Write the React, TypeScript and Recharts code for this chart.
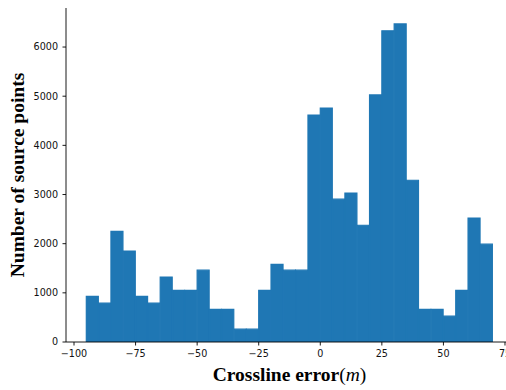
import React from 'react';
import { BarChart, Bar, XAxis, YAxis, Label } from 'recharts';

const binStarts = [-95, -90, -85, -80, -75, -70, -65, -60, -55, -50, -45, -40, -35, -30, -25, -20, -15, -10, -5, 0, 5, 10, 15, 20, 25, 30, 35, 40, 45, 50, 55, 60, 65];
const counts = [930, 790, 2250, 1850, 930, 790, 1320, 1050, 1050, 1460, 665, 665, 260, 260, 1050, 1580, 1460, 1460, 4615, 4760, 2905, 3030, 2375, 5025, 6330, 6470, 3290, 665, 665, 525, 1050, 2520, 1990];
const binWidth = 5;
const xTicks = [-100, -75, -50, -25, 0, 25, 50, 75];
const yTicks = [0, 1000, 2000, 3000, 4000, 5000, 6000];
const xDomain = [-103.25, 78.25];
const yDomain = [0, 6794];

const data = binStarts.map((s, i) => ({ x: s + binWidth / 2, count: counts[i] }));

const fmt = (v: number) => String(v).replace('-', '\u2212');

const tickStyle = { fontSize: 9.6, fill: '#111', fontFamily: 'DejaVu Sans' };

const XLabel = (props: any) => {
  const vb = props.viewBox;
  return (
    <text x={vb.x + vb.width / 2} y={380.5} textAnchor="middle" fontFamily="Liberation Serif" fontSize={19.5} fill="#000">
      <tspan fontWeight="bold">Crossline error</tspan>
      <tspan>(</tspan>
      <tspan fontStyle="italic">m</tspan>
      <tspan>)</tspan>
    </text>
  );
};

const YLabel = (props: any) => {
  const vb = props.viewBox;
  const cx = 24;
  const cy = vb.y + vb.height / 2;
  return (
    <text x={cx} y={cy} textAnchor="middle" fontFamily="Liberation Serif" fontSize={19.5} fontWeight="bold" fill="#000" transform={`rotate(-90, ${cx}, ${cy})`}>
      Number of source points
    </text>
  );
};

export default function App() {
  return (
    <div style={{ position: 'fixed', left: 0, top: 0, width: 506, height: 390, overflow: 'hidden', background: '#fff' }}>
      <BarChart width={514} height={390} data={data} margin={{ top: 8, right: 1, bottom: 0, left: 0 }} barCategoryGap={0} barGap={0}>
        <XAxis
          xAxisId="main"
          dataKey="x"
          type="number"
          domain={xDomain}
          ticks={xTicks}
          allowDataOverflow
          tickFormatter={fmt}
          tick={tickStyle}
          tickSize={3.5}
          tickMargin={5}
          height={48}
          stroke="#000"
          tickLine={{ stroke: '#000', strokeWidth: 0.9 }}
          axisLine={{ stroke: '#000', strokeWidth: 0.9 }}
          interval={0}
        >
          <Label content={<XLabel />} />
        </XAxis>
        <XAxis xAxisId="top" orientation="top" dataKey="x" type="number" domain={xDomain} allowDataOverflow height={0} tick={false} tickLine={false} axisLine={{ stroke: '#000', strokeWidth: 0.9 }} />
        <YAxis
          type="number"
          domain={yDomain}
          ticks={yTicks}
          allowDataOverflow
          tick={tickStyle}
          tickSize={3.5}
          tickMargin={4.5}
          width={66}
          tickLine={{ stroke: '#000', strokeWidth: 0.9 }}
          axisLine={{ stroke: '#000', strokeWidth: 0.9 }}
          interval={0}
        >
          <Label content={<YLabel />} />
        </YAxis>
        <Bar xAxisId="main" dataKey="count" fill="#1f77b4" stroke="#1f77b4" strokeWidth={1.2} isAnimationActive={false} />
      </BarChart>
    </div>
  );
}
